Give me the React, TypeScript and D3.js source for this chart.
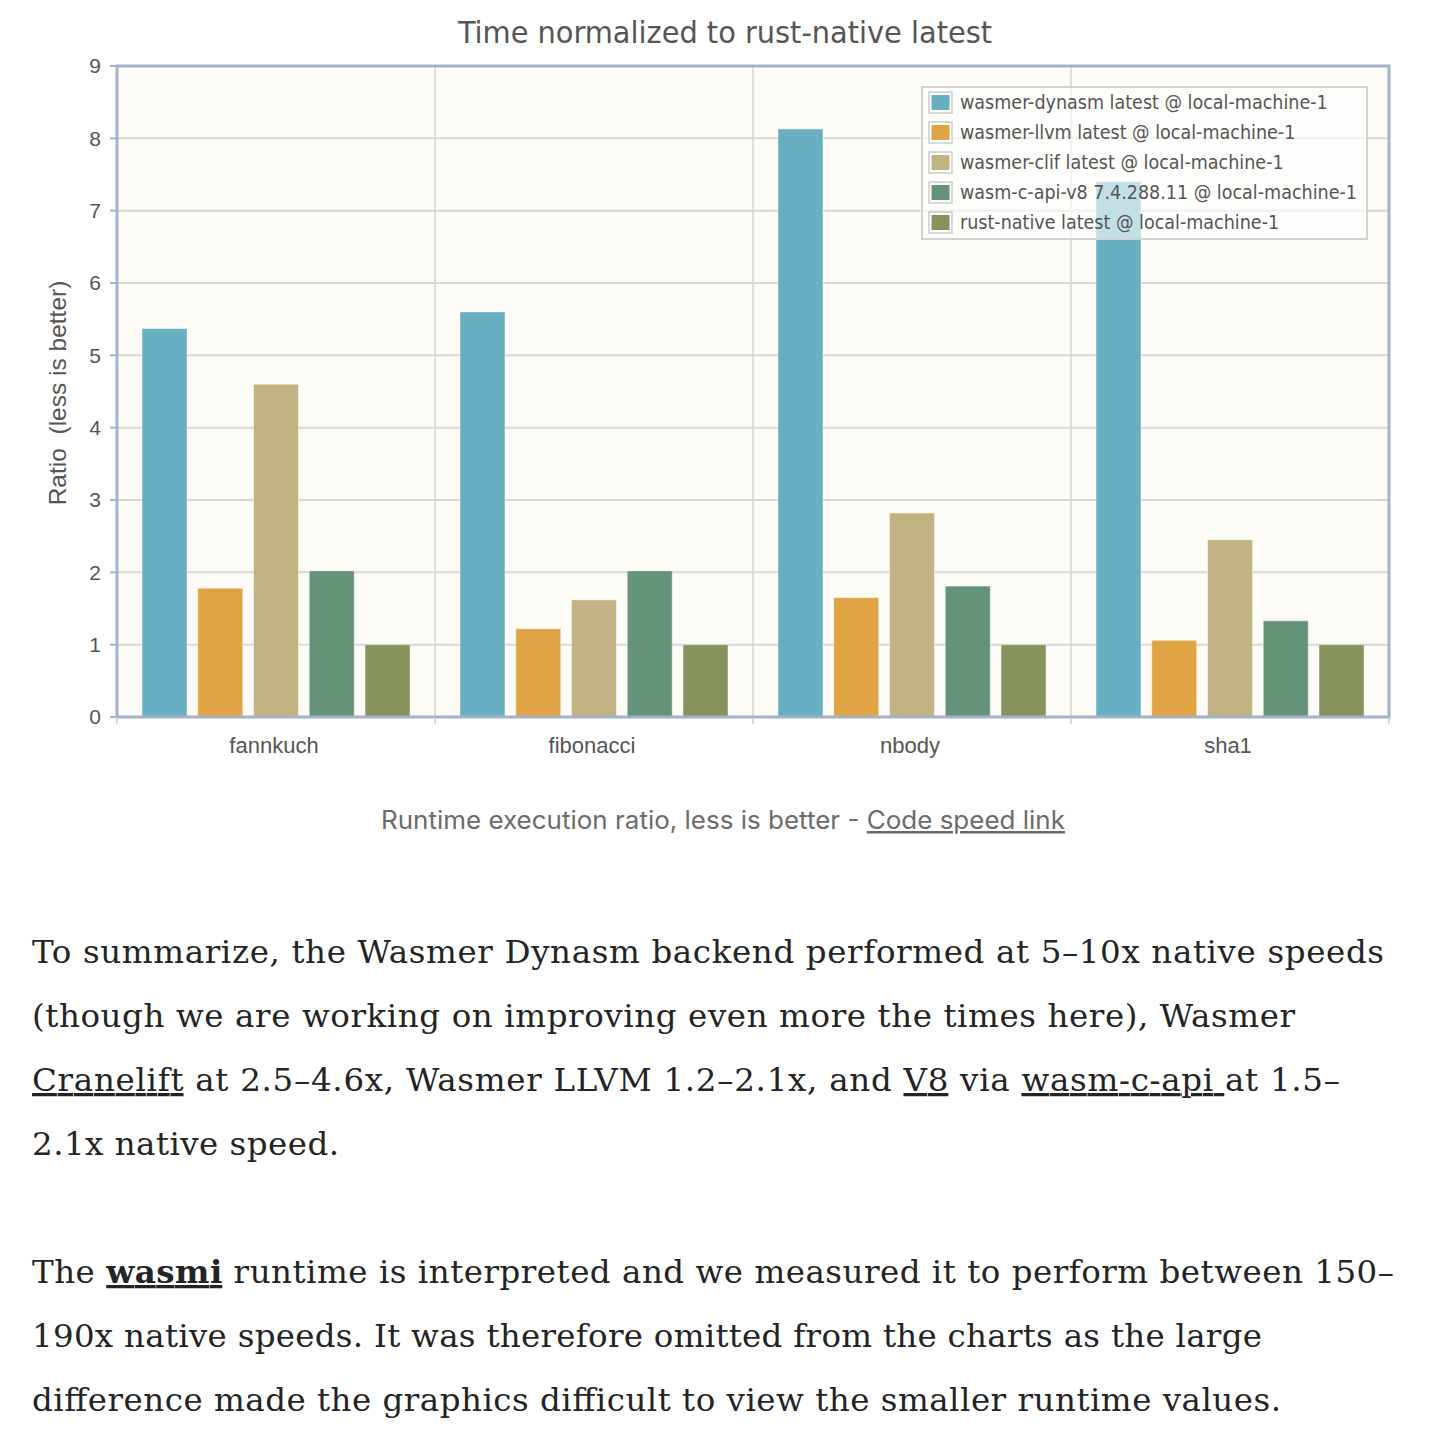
import React from "react";
import * as d3 from "d3";

const categories = ["fannkuch", "fibonacci", "nbody", "sha1"];
const seriesNames = [
  "wasmer-dynasm latest @ local-machine-1",
  "wasmer-llvm latest @ local-machine-1",
  "wasmer-clif latest @ local-machine-1",
  "wasm-c-api-v8 7.4.288.11 @ local-machine-1",
  "rust-native latest @ local-machine-1",
];
const seriesColors = ["#67afc1", "#e0a444", "#c2b383", "#649377", "#87935c"];
const dynasm = [5.37, 5.6, 8.13, 7.4];
const llvm = [1.78, 1.22, 1.65, 1.06];
const clif = [4.6, 1.62, 2.82, 2.45];
const v8 = [2.02, 2.02, 1.81, 1.33];
const native = [1.0, 1.0, 1.0, 1.0];
const seriesValues = [dynasm, llvm, clif, v8, native];
const yTicks = [0, 1, 2, 3, 4, 5, 6, 7, 8, 9];

const title = "Time normalized to rust-native latest";
const yTitle = "Ratio  (less is better)";
const captionText = "Runtime execution ratio, less is better - ";
const captionLink = "Code speed link";

type Seg = { t: string; u?: boolean; b?: boolean };
const para1: { segs: Seg[]; w: number }[] = [
  { segs: [{ t: "To summarize, the Wasmer Dynasm backend performed at 5–10x native speeds" }], w: 1352 },
  { segs: [{ t: "(though we are working on improving even more the times here), Wasmer" }], w: 1263 },
  {
    segs: [
      { t: "Cranelift", u: true },
      { t: " at 2.5–4.6x, Wasmer LLVM 1.2–2.1x, and " },
      { t: "V8", u: true },
      { t: " via " },
      { t: "wasm-c-api ", u: true },
      { t: "at 1.5–" },
    ],
    w: 1308,
  },
  { segs: [{ t: "2.1x native speed." }], w: 307 },
];
const para2: { segs: Seg[]; w: number }[] = [
  {
    segs: [
      { t: "The " },
      { t: "wasmi", u: true, b: true },
      { t: " runtime is interpreted and we measured it to perform between 150–" },
    ],
    w: 1362,
  },
  { segs: [{ t: "190x native speeds. It was therefore omitted from the charts as the large" }], w: 1230 },
  { segs: [{ t: "difference made the graphics difficult to view the smaller runtime values." }], w: 1249 },
];

export default function App() {
  const left = 117,
    right = 1389,
    top = 66,
    bottom = 717;
  const x0 = d3.scaleBand<string>().domain(categories).range([left, right]).padding(0);
  const x1 = d3
    .scaleBand<number>()
    .domain(d3.range(seriesNames.length))
    .range([25, x0.bandwidth() - 25])
    .paddingInner(0.193)
    .paddingOuter(0);
  const y = d3.scaleLinear().domain([0, 9]).range([bottom, top]);

  const chartFont = "'Liberation Sans', Arial, sans-serif";
  const titleFont = "'DejaVu Sans Condensed', 'DejaVu Sans', sans-serif";
  const serif = "'DejaVu Serif', serif";

  const boundaries = [...categories.map((c) => x0(c)!), right];

  const renderPara = (lines: { segs: Seg[]; w: number }[], y0: number) =>
    lines.map((ln, i) => (
      <text
        key={i}
        x={32}
        y={y0 + i * 64}
        fontFamily={serif}
        fontSize={32.5}
        fill="#242424"
        textLength={ln.w}
        lengthAdjust="spacing"
      >
        {ln.segs.map((s, j) => (
          <tspan
            key={j}
            fontWeight={s.b ? 700 : 400}
            style={s.u ? { textDecoration: "underline" } : undefined}
          >
            {s.t}
          </tspan>
        ))}
      </text>
    ));

  return (
    <svg
      width={1444}
      height={1438}
      style={{ position: "absolute", left: 0, top: 0, background: "#ffffff" }}
    >
      <rect x={0} y={0} width={1444} height={1438} fill="#ffffff" />
      {/* title */}
      <text
        x={725}
        y={43}
        textAnchor="middle"
        fontFamily={titleFont}
        fontSize={30}
        fill="#555555"
        textLength={534}
        lengthAdjust="spacingAndGlyphs"
      >
        {title}
      </text>

      {/* plot background */}
      <rect x={left} y={top} width={right - left} height={bottom - top} fill="#fdfcf7" />

      {/* horizontal grid */}
      {yTicks.map((t) => (
        <line key={"g" + t} x1={left} x2={right} y1={y(t)} y2={y(t)} stroke="#d8d8d6" strokeWidth={2} />
      ))}
      {/* vertical grid */}
      {boundaries.slice(1, -1).map((b, i) => (
        <line key={"v" + i} x1={b} x2={b} y1={top} y2={bottom} stroke="#d6d6d4" strokeWidth={1.5} />
      ))}

      {/* bars */}
      {categories.map((c, ci) => (
        <g key={c} transform={`translate(${x0(c)},0)`}>
          {seriesValues.map((vals, si) => (
            <rect
              key={si}
              x={x1(si)}
              y={y(vals[ci])}
              width={x1.bandwidth()}
              height={y(0) - y(vals[ci])}
              fill={seriesColors[si]}
              stroke="#ffffff"
              strokeOpacity={0.45}
              strokeWidth={1}
            />
          ))}
        </g>
      ))}

      {/* plot border */}
      <rect
        x={left}
        y={top}
        width={right - left}
        height={bottom - top}
        fill="none"
        stroke="#a3b1cd"
        strokeWidth={3}
      />

      {/* y ticks and labels */}
      {yTicks.map((t) => (
        <g key={"yt" + t}>
          <line x1={110} x2={left} y1={y(t)} y2={y(t)} stroke="#a3b1cd" strokeWidth={2} />
          <text
            x={101}
            y={y(t)}
            dy="0.35em"
            textAnchor="end"
            fontFamily={chartFont}
            fontSize={21}
            fill="#555555"
          >
            {t}
          </text>
        </g>
      ))}

      {/* x ticks */}
      {boundaries.map((b, i) => (
        <line key={"xt" + i} x1={b} x2={b} y1={bottom} y2={724} stroke="#c8cbd2" strokeWidth={1.5} />
      ))}
      {categories.map((c) => (
        <text
          key={"xl" + c}
          x={x0(c)! + x0.bandwidth() / 2 - 2}
          y={753}
          textAnchor="middle"
          fontFamily={chartFont}
          fontSize={22}
          fill="#555555"
        >
          {c}
        </text>
      ))}

      {/* y title */}
      <text
        transform="translate(66,393) rotate(-90)"
        textAnchor="middle"
        fontFamily={chartFont}
        fontSize={24.5}
        fill="#555555"
        style={{ whiteSpace: "pre" }}
      >
        {yTitle}
      </text>

      {/* legend */}
      <g>
        <rect x={922} y={87} width={445} height={152} fill="#ffffff" fillOpacity={0.6} stroke="#d2d2d2" strokeWidth={2} />
        {seriesNames.map((n, i) => (
          <g key={n} transform={`translate(0,${92 + i * 30})`}>
            <rect x={929} y={0} width={23} height={21} fill="#ffffff" stroke="#cccccc" strokeWidth={1.5} />
            <rect x={931.5} y={3} width={18} height={15} fill={seriesColors[i]} />
            <text x={960} y={17} fontFamily={titleFont} fontSize={19.5} fill="#555555">
              {n}
            </text>
          </g>
        ))}
      </g>

      {/* caption */}
      <text
        x={723}
        y={829}
        textAnchor="middle"
        fontFamily="Inter, 'Noto Sans', sans-serif"
        fontSize={25}
        fill="#6b6b6b"
        textLength={684}
        lengthAdjust="spacingAndGlyphs"
        style={{ whiteSpace: "pre" }}
      >
        {captionText}
        <tspan style={{ textDecoration: "underline" }}>{captionLink}</tspan>
      </text>

      {renderPara(para1, 963)}
      {renderPara(para2, 1283)}
    </svg>
  );
}
